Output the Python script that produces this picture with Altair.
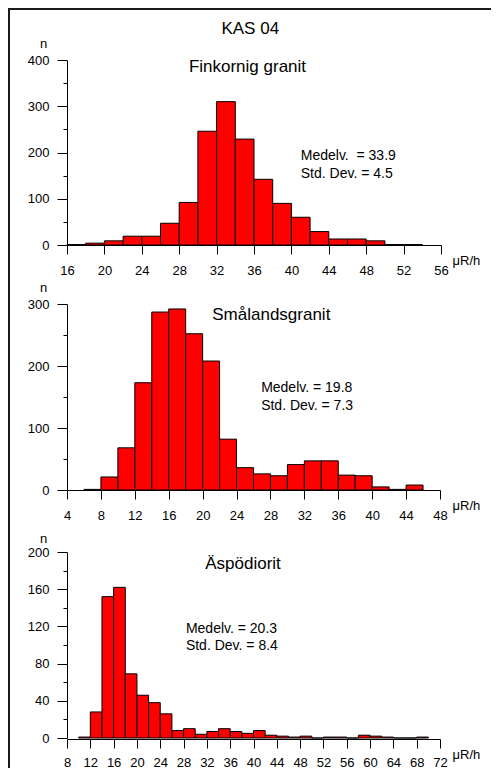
import altair as alt
import pandas as pd

FONT = "Liberation Sans"
RED = "#ff0000"

# ---------------- data ----------------
fin_bins = [16, 18, 20, 22, 24, 26, 28, 30, 32, 34, 36, 38, 40, 42, 44, 46, 48, 50, 52]
fin_counts = [1, 4, 9, 19, 19, 47, 92, 246, 310, 229, 142, 90, 60, 29, 13, 13, 9, 1, 1]

sma_bins = [6, 8, 10, 12, 14, 16, 18, 20, 22, 24, 26, 28, 30, 32, 34, 36, 38, 40, 42, 44]
sma_counts = [1, 21, 68, 173, 287, 292, 252, 208, 82, 36, 26, 23, 41, 47, 47, 24, 23, 5, 1, 8]

asp_bins = [10, 12, 14, 16, 18, 20, 22, 24, 26, 28, 30, 32, 34, 36, 38, 40, 42, 44, 46, 48,
            50, 52, 54, 56, 58, 60, 62, 64, 66, 68]
asp_counts = [1, 28, 152, 162, 69, 46, 38, 26, 8, 10, 4, 7, 10, 7, 5, 8, 3, 2, 1, 2,
              0, 1, 1, 0, 3, 2, 1, 0, 0, 1]

fin_xticks = [16, 20, 24, 28, 32, 36, 40, 44, 48, 52, 56]
sma_xticks = [4, 8, 12, 16, 20, 24, 28, 32, 36, 40, 44, 48]
asp_xticks = [8, 12, 16, 20, 24, 28, 32, 36, 40, 44, 48, 52, 56, 60, 64, 68, 72]

fin_ymajor = [0, 100, 200, 300, 400]
fin_yminor = [50, 150, 250, 350]
sma_ymajor = [0, 100, 200, 300]
sma_yminor = [50, 150, 250]
asp_ymajor = [0, 40, 80, 120, 160, 200]
asp_yminor = [20, 60, 100, 140, 180]

main_title = "KAS 04"
titles = ["Finkornig granit", "Smålandsgranit", "Äspödiorit"]
mean_texts = ["Medelv.\u00a0 = 33.9", "Medelv. = 19.8", "Medelv. = 20.3"]
std_texts = ["Std. Dev. = 4.5", "Std. Dev. = 7.3", "Std. Dev. = 8.4"]
unit = "μR/h"
ylabel = "n"


def panel(bins, counts, xdom, xticks, ymax, ymajor, yminor, width, height,
          title, title_xy, mean_t, std_t, stats_x, mean_y, std_y, n_y,
          yrange=None, big_title=None, frame=False, xlabel_pad=10):
    df = pd.DataFrame({"start": bins, "count": counts})
    xs = alt.Scale(domain=xdom, nice=False, zero=False)
    if yrange is None:
        ys = alt.Scale(domain=[0, ymax], nice=False, zero=False)
    else:
        ys = alt.Scale(domain=[0, ymax], nice=False, zero=False, range=yrange)

    xaxis = alt.Axis(values=xticks, format="d", tickSize=9, labelPadding=xlabel_pad,
                     labelFont=FONT, labelFontSize=13, labelColor="black",
                     domainColor="black", tickColor="black", domainWidth=1, tickWidth=1,
                     grid=False, labelFlush=False, labelOverlap=False,
                     title=unit, titleFont=FONT, titleFontSize=13, titleFontWeight="normal",
                     titleColor="black", titleAlign="left", titleBaseline="middle",
                     titleX=385, titleY=15)
    yaxis = alt.Axis(values=ymajor, format="d", tickSize=10, labelPadding=8,
                     labelFont=FONT, labelFontSize=13, labelColor="black",
                     domainColor="black", tickColor="black", domainWidth=1, tickWidth=1,
                     grid=False, labelFlush=False, labelOverlap=False,
                     title=ylabel, titleFont=FONT, titleFontSize=13, titleFontWeight="normal",
                     titleColor="black", titleAngle=0, titleAlign="center",
                     titleBaseline="middle", titleX=-24, titleY=n_y, orient="left")
    yminor_axis = alt.Axis(values=yminor, tickSize=4, labels=False, domain=False,
                           grid=False, title=None, orient="left", tickColor="black",
                           tickWidth=1)

    base = alt.Chart(df).transform_calculate(end="datum.start + 2")
    bars = base.mark_rect(fill=RED, stroke="black", strokeWidth=1).encode(
        x=alt.X("start:Q", scale=xs, axis=xaxis),
        x2="end:Q",
        y=alt.Y("count:Q", scale=ys, axis=yaxis),
        y2=alt.datum(0),
    )
    minor = base.mark_rect(opacity=0).encode(
        x=alt.X("start:Q", scale=xs, axis=xaxis),
        x2="end:Q",
        y=alt.Y("count:Q", scale=ys, axis=yminor_axis),
        y2=alt.datum(0),
    )

    tdf = pd.DataFrame({"t": [title] + ([big_title] if big_title else [])})
    ttl = alt.Chart(tdf).mark_text(
        font=FONT, fontSize=17, color="black", align="center", baseline="middle"
    ).transform_window(
        k="row_number()"
    ).transform_calculate(
        tx=f"datum.k == 1 ? {title_xy[0]} : {title_xy[2] if len(title_xy) > 2 else 0}",
        ty=f"datum.k == 1 ? {title_xy[1]} : {title_xy[3] if len(title_xy) > 3 else 0}",
    ).encode(
        x=alt.X("tx:Q", scale=xs, axis=xaxis),
        y=alt.Y("ty:Q", scale=ys, axis=None),
        text="t:N",
    )
    stats = alt.Chart(pd.DataFrame({"t": [mean_t, std_t]})).mark_text(
        font=FONT, fontSize=14, color="black", align="left", baseline="middle"
    ).transform_window(
        k="row_number()"
    ).transform_calculate(
        tx=str(stats_x), ty=f"datum.k == 1 ? {mean_y} : {std_y}"
    ).encode(
        x=alt.X("tx:Q", scale=xs, axis=xaxis),
        y=alt.Y("ty:Q", scale=ys, axis=None),
        text="t:N",
    )

    layers = [bars, minor, ttl, stats]
    if frame:
        fr = alt.Chart(pd.DataFrame({"k": [0]})).mark_rect(
            fill="white", fillOpacity=0, stroke="#1a1a1a", strokeWidth=2
        ).encode(
            x=alt.value(-58), x2=alt.value(450), y=alt.value(-51), y2=alt.value(730)
        )
        layers.append(fr)
    return alt.layer(*layers).resolve_axis(y="independent").properties(
        width=width, height=height)


p1 = panel(fin_bins, fin_counts, [16, 56], fin_xticks, 400, fin_ymajor, fin_yminor, 374, 185,
           titles[0], (35.3, 384, 35.6, 468), mean_texts[0], std_texts[0], 41.0, 192, 152.5,
           -17, big_title=main_title, frame=True)
p2 = panel(sma_bins, sma_counts, [4, 48], sma_xticks, 300, sma_ymajor, sma_yminor, 373, 186,
           titles[1], (28.1, 281.5), mean_texts[1], std_texts[1], 26.9, 164.8, 135.2, -16.5)
p3 = panel(asp_bins, asp_counts, [8, 72], asp_xticks, 200, asp_ymajor, asp_yminor, 373, 190,
           titles[2], (38.2, 187.2), mean_texts[2], std_texts[2], 28.4, 116.8, 98.9, -10.5,
           yrange=[189, 3], xlabel_pad=8)

chart = alt.vconcat(p1, p2, p3, spacing=59, bounds="flush").properties(
    autosize=alt.AutoSizeParams(type="none"),
    padding={"left": 59, "top": 52, "right": 424, "bottom": 708},
).configure(font=FONT, background="white").configure_view(stroke=None)

chart.save("out.html", embed_options={"renderer": "svg", "actions": False})
